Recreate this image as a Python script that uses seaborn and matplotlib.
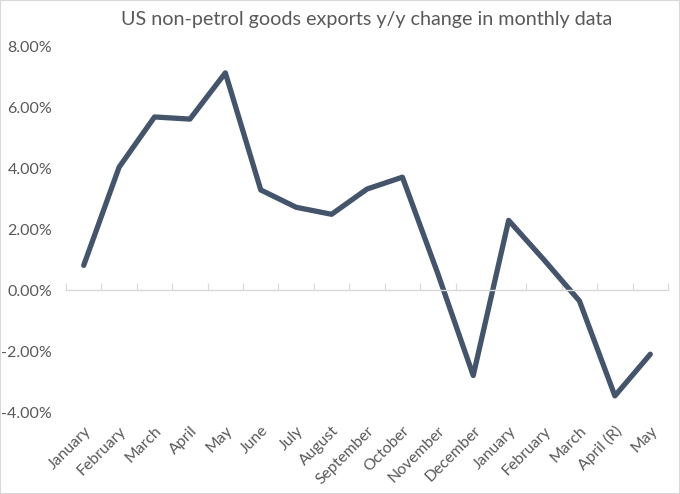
import numpy as np
import matplotlib
matplotlib.use("Agg")
import matplotlib.pyplot as plt
from matplotlib.patches import Rectangle
from matplotlib.ticker import FuncFormatter
import seaborn as sns

# values
months = ["January", "February", "March", "April", "May", "June", "July", "August",
          "September", "October", "November", "December", "January", "February",
          "March", "April (R)", "May"]
change = [0.82, 4.05, 5.70, 5.63, 7.15, 3.30, 2.73, 2.50,
          3.33, 3.72, 0.55, -2.80, 2.30, 1.00, -0.35, -3.47, -2.10]
y_ticks = [-4, -2, 0, 2, 4, 6, 8]
title = "US non-petrol goods exports y/y change in monthly data"

sns.set_style("white")
plt.rcParams["font.family"] = ["Lato", "DejaVu Sans"]

text_color = "#595959"
axis_color = "#d9d9d9"
line_color = "#44546a"

fig = plt.figure(figsize=(6.8, 4.94), dpi=100)
ax = fig.add_axes([66 / 680, 1 - 412 / 494, 602 / 680, 365 / 494])

x = np.arange(len(months))
sns.lineplot(x=x, y=change, color=line_color, linewidth=3.8, ax=ax)
ax.lines[0].set_solid_joinstyle("round")
ax.lines[0].set_solid_capstyle("round")

ax.set_xlim(-0.5, len(months) - 0.5)
ax.set_ylim(-4, 8)

# zero line with ticks between the categories, labels down at the bottom
for side in ["top", "left", "right"]:
    ax.spines[side].set_visible(False)
ax.spines["bottom"].set_position(("data", 0))
ax.spines["bottom"].set_color(axis_color)
ax.spines["bottom"].set_linewidth(1)

ax.set_xticks(np.arange(len(months) + 1) - 0.5)
ax.set_xticklabels([])
ax.tick_params(axis="x", which="major", bottom=True, direction="in", length=5,
               width=0.8, color=axis_color)
ax.set_xticks(x, minor=True)
ax.set_xticklabels(months, minor=True, rotation=45, ha="right", va="top",
                   rotation_mode="anchor", fontsize=11.3, color=text_color)
ax.tick_params(axis="x", which="minor", bottom=False, length=0, pad=96)

ax.set_yticks(y_ticks)
ax.yaxis.set_major_formatter(FuncFormatter(lambda v, pos: f"{v:.2f}%"))
ax.tick_params(axis="y", length=0, pad=10, labelsize=11.5, labelcolor=text_color)

fig.text(367 / 680, 1 - 20 / 494, title, ha="center", va="center",
         fontsize=14.2, color=text_color)

# thin grey frame round the screenshot
fig.add_artist(Rectangle((0, 0), 1, 1, transform=fig.transFigure, fill=False,
                         edgecolor=axis_color, linewidth=1.5))

fig.savefig("out.png", dpi=100)
